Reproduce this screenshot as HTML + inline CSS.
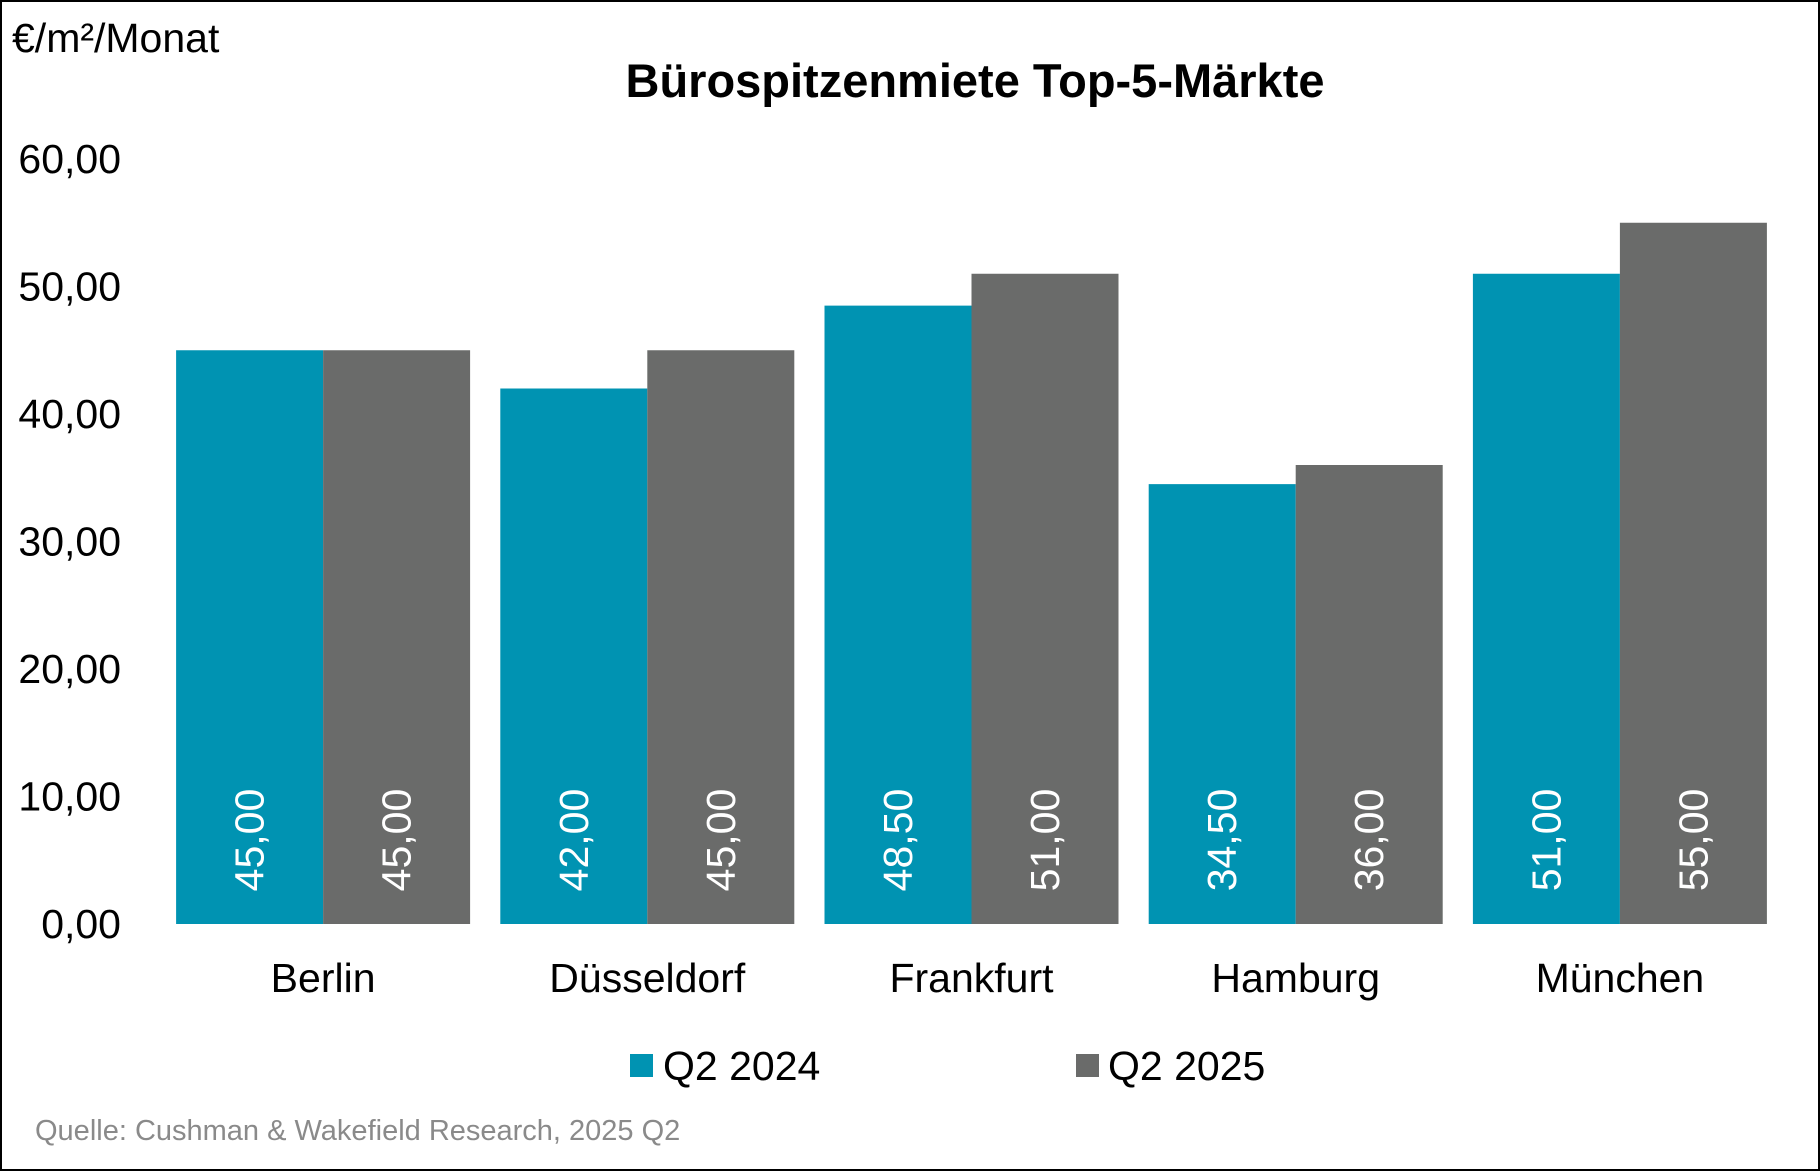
<!DOCTYPE html>
<html><head><meta charset="utf-8"><style>
body{margin:0;background:#fff}
svg{display:block;font-family:"Liberation Sans",Arial,sans-serif}
</style></head><body>
<svg width="1820" height="1171" viewBox="0 0 1820 1171">
<rect x="1" y="1" width="1818" height="1169" fill="#fff" stroke="#000" stroke-width="2"/>
<text x="12" y="52" font-size="41" fill="#000">€/m²/Monat</text>
<text x="975" y="97" font-size="47" font-weight="bold" text-anchor="middle" fill="#000">Bürospitzenmiete Top-5-Märkte</text>
<g id="yaxis"></g><g id="bars"></g><g id="cats"></g>
<rect x="630" y="1054" width="23" height="23" fill="#0093b2"/>
<text x="663" y="1080" font-size="41">Q2 2024</text>
<rect x="1076" y="1054" width="23" height="23" fill="#6a6b6a"/>
<text x="1108" y="1080" font-size="41">Q2 2025</text>
<text x="35" y="1140" font-size="29" fill="#8a8a8a">Quelle: Cushman &amp; Wakefield Research, 2025 Q2</text>
</svg>
<script>
const categories=["Berlin","Düsseldorf","Frankfurt","Hamburg","München"];
const q2024=[45.00,42.00,48.50,34.50,51.00];
const q2025=[45.00,45.00,51.00,36.00,55.00];
const yTicks=[0,10,20,30,40,50,60];
const NS="http://www.w3.org/2000/svg";
const plotL=161,catW=324.2,y0=924,yTop=159,yMax=60,barW=147;
function y(v){return y0-(v/yMax)*(y0-yTop);}
function fmt(v){return v.toFixed(2).replace(".",",");}
function mk(t,a,p){const e=document.createElementNS(NS,t);for(const k in a)e.setAttribute(k,a[k]);p.appendChild(e);return e;}
const ya=document.getElementById("yaxis"),bg=document.getElementById("bars"),cg=document.getElementById("cats");
yTicks.forEach(t=>{const e=mk("text",{x:121,y:y(t)+14,"font-size":41,"text-anchor":"end"},ya);e.textContent=fmt(t);

});
categories.forEach((c,i)=>{
 const cx=plotL+catW*(i+0.5);
 [[q2024[i],"#0093b2",cx-barW,"q2-2024"],[q2025[i],"#6a6b6a",cx,"q2-2025"]].forEach(([v,col,x,s])=>{
  const r=mk("rect",{x:x,y:y(v),width:barW,height:y0-y(v),fill:col},bg);
  
  
  const lx=x+barW/2+14,ly=840;
  const t=mk("text",{x:lx,y:ly,"font-size":41,fill:"#fff","text-anchor":"middle",transform:`rotate(-90 ${lx} ${ly})`},bg);
  t.textContent=fmt(v);
  
  
 });
 const l=mk("text",{x:cx,y:992,"font-size":41,"text-anchor":"middle"},cg);l.textContent=c;
 
 
});
</script>
</body></html>
